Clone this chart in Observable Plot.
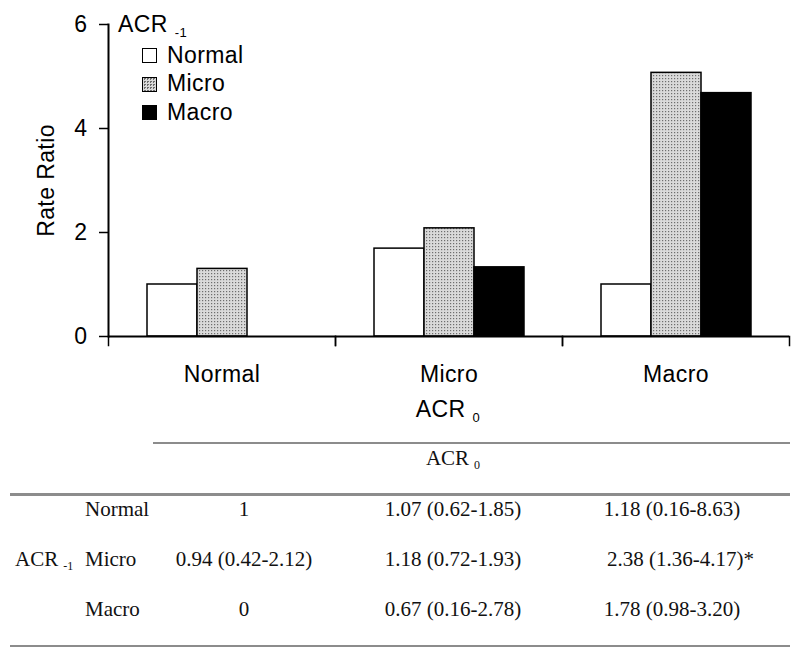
<!DOCTYPE html>
<html><head><meta charset="utf-8">
<script src="https://cdn.jsdelivr.net/npm/d3@7"></script>
<script src="https://cdn.jsdelivr.net/npm/@observablehq/plot@0.6"></script>
<style>
body{margin:0;background:#fff;}
#wrap{position:relative;width:800px;height:656px;overflow:hidden;background:#fff;}
#wrap svg{position:absolute;left:0;top:0;}
.t{position:absolute;white-space:nowrap;line-height:1;}
.sans{font-family:"Liberation Sans",Arial,sans-serif;font-size:23px;letter-spacing:0.4px;color:#000;}
.serif{font-family:"Liberation Serif","Times New Roman",serif;font-size:21px;color:#111;}
.hl{position:absolute;background:#8c8c8c;}
.box{position:absolute;width:15px;height:15px;box-sizing:border-box;border:1.5px solid #000;}
</style></head><body><div id="wrap"></div>
<script>
// ---- data ----
const groups = ["Normal", "Micro", "Macro"];        // ACR 0 categories (x groups)
const seriesNames = ["Normal", "Micro", "Macro"];   // ACR -1 series
const normalValues = [1.0, 1.69, 1.0];
const microValues  = [1.3, 2.08, 5.07];
const macroValues  = [0, 1.33, 4.68];
const yTicks = [0, 2, 4, 6];
const yLabel = "Rate Ratio";
const tableRowLabels = ["Normal", "Micro", "Macro"];
const tableCol1 = ["1", "0.94 (0.42-2.12)", "0"];
const tableCol2 = ["1.07 (0.62-1.85)", "1.18 (0.72-1.93)", "0.67 (0.16-2.78)"];
const tableCol3 = ["1.18 (0.16-8.63)", "2.38 (1.36-4.17)", "1.78 (0.98-3.20)"];
const tableCol3Marks = ["", "*", ""];

const valuesBySeries = {Normal: normalValues, Micro: microValues, Macro: macroValues};
const rows = [];
groups.forEach((g, i) => seriesNames.forEach(s => rows.push({group: g, series: s, value: valuesBySeries[s][i]})));

const wrap = document.getElementById("wrap");

const chart = Plot.plot({
  width: 800, height: 420,
  marginTop: 24, marginRight: 10, marginBottom: 84, marginLeft: 107,
  style: {fontFamily: '"Liberation Sans", Arial, sans-serif', fontSize: "23px", letterSpacing: "0.4px", color: "#000", background: "transparent", overflow: "visible"},
  fx: {domain: groups, padding: 0},
  x: {domain: seriesNames, paddingInner: 0, paddingOuter: 0.74, axis: null},
  y: {domain: [0, 6]},
  color: {domain: seriesNames, range: ["#ffffff", "url(#stipple)", "#000000"]},
  marks: [
    Plot.barY(rows, {fx: "group", x: "series", y: "value", fill: "series", stroke: "#000", strokeWidth: 1.5}),
    Plot.ruleY([0], {strokeWidth: 2}),
    Plot.frame({anchor: "left", facetAnchor: "left", strokeWidth: 2}),
    Plot.frame({anchor: "left", insetTop: 312, insetBottom: -9, strokeWidth: 1.5}),
    Plot.frame({anchor: "right", insetTop: 312, insetBottom: -9, strokeWidth: 1.5}),
    Plot.axisY({ticks: yTicks, tickSize: 9, tickPadding: 12, tickFormat: d => String(d), label: yLabel, labelAnchor: "center", labelArrow: "none", labelOffset: 71, fontSize: 23, strokeWidth: 1.5}),
    Plot.axisFx({anchor: "bottom", tickSize: 0, tickPadding: 29, label: null, fontSize: 23})
  ]
});
const svg = chart.tagName.toLowerCase() === "svg" ? chart : chart.querySelector("svg");
const ns = "http://www.w3.org/2000/svg";
const defs = document.createElementNS(ns, "defs");
defs.innerHTML = '<pattern id="stipple" width="3" height="3" patternUnits="userSpaceOnUse"><rect width="3" height="3" fill="#dadada"/><rect width="1.2" height="1.2" fill="#6e6e6e"/></pattern>';
svg.insertBefore(defs, svg.firstChild);
wrap.appendChild(chart);

// ---- html helpers ----
function addText(html, cls, left, top, align, width) {
  const d = document.createElement("div");
  d.className = "t " + cls;
  d.innerHTML = html;
  d.style.top = top + "px";
  if (align === "center") { d.style.left = (left - width / 2) + "px"; d.style.width = width + "px"; d.style.textAlign = "center"; }
  else d.style.left = left + "px";
  wrap.appendChild(d);
  return d;
}
function addLine(x1, x2, y, h) {
  const d = document.createElement("div");
  d.className = "hl";
  d.style.left = x1 + "px"; d.style.width = (x2 - x1) + "px"; d.style.top = y + "px"; d.style.height = h + "px";
  wrap.appendChild(d);
}
const SANS_OFF = 19.4, SERIF_OFF = 17.6;
const subSans = s => `<span style="font-size:13px;position:relative;top:5px;margin-left:7px">${s}</span>`;
const subSerif = s => `<span style="font-size:12px;position:relative;top:4px;margin-left:5px">${s}</span>`;

// legend
addText("ACR" + subSans("-1"), "sans", 118, 32 - SANS_OFF);
const legendFills = ["#fff", "repeating-conic-gradient(#6e6e6e 0 25%, #dadada 0 100%) 0 0/3px 3px", "#000"];
seriesNames.forEach((s, i) => {
  const base = 63 + i * 28.6;
  const b = document.createElement("div");
  b.className = "box";
  b.style.left = "142px"; b.style.top = (base - 15) + "px";
  b.style.background = legendFills[i];
  if (i === 1) b.style.backgroundColor = "#c4c4c4";
  wrap.appendChild(b);
  addText(s, "sans", 167, base - SANS_OFF);
});

// x axis title
addText("ACR" + subSans("0"), "sans", 448, 417 - SANS_OFF, "center", 200);

// table
addLine(153, 790, 442, 2);
addText("ACR" + subSerif("0"), "serif", 453, 466 - SERIF_OFF, "center", 200);
addLine(10, 790, 493, 3);
const rowBase = [517, 567, 617];
const colCenters = [244, 453, 672];
tableRowLabels.forEach((lab, i) => {
  addText(lab, "serif", 85, rowBase[i] - SERIF_OFF);
  addText(tableCol1[i], "serif", colCenters[0], rowBase[i] - SERIF_OFF, "center", 200);
  addText(tableCol2[i], "serif", colCenters[1], rowBase[i] - SERIF_OFF, "center", 200);
  const mark = tableCol3Marks[i] ? `<span style="margin-right:-9px">${tableCol3Marks[i]}</span>` : "";
  addText(tableCol3[i] + mark, "serif", colCenters[2] + (tableCol3Marks[i] ? 4 : 0), rowBase[i] - SERIF_OFF, "center", 220);
});
addText("ACR" + subSerif("-1"), "serif", 15, rowBase[1] - SERIF_OFF);
addLine(10, 790, 645, 2);
</script></body></html>
